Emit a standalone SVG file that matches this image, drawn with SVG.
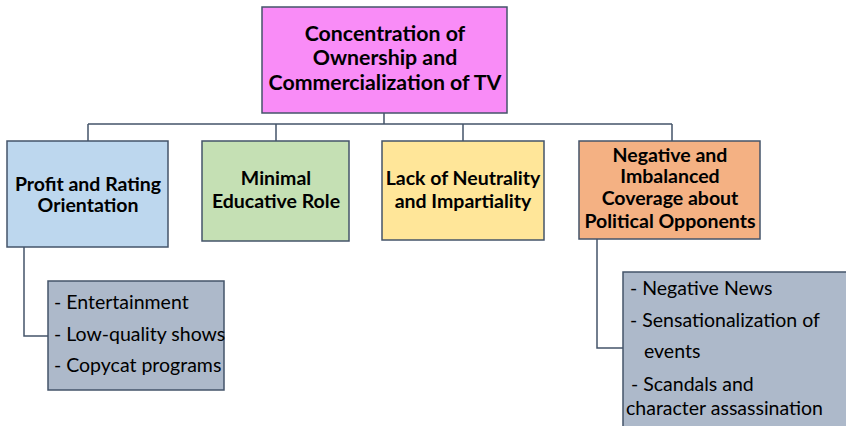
<svg xmlns="http://www.w3.org/2000/svg" width="846" height="426" viewBox="0 0 846 426">
<style>
.box{stroke:#44546a;stroke-width:1.5}
.t{font-family:Lato,"Liberation Sans",sans-serif;font-weight:bold;font-size:19.5px;fill:#000;text-anchor:middle}
.r{font-size:21.3px}
.s{font-family:Lato,"Liberation Sans",sans-serif;font-size:19.5px;fill:#000}
.c{fill:none;stroke:#44546a;stroke-width:1.5}
</style>
<rect width="846" height="426" fill="#fff"/>
<g id="connectors">
<path class="c" d="M384,113 V124 M88,124 H672 M88,124 V141 M276,124 V141 M463,124 V141 M672,124 V141"/>
<path class="c" d="M24,247 V336 H48"/>
<path class="c" d="M597,239 V348 H623"/>
</g>
<g id="root">
<rect class="box" x="262" y="7" width="245" height="106" fill="#f98cf7"/>
<text class="t r" x="385" y="41">Concentration of</text>
<text class="t r" x="385" y="65">Ownership and</text>
<text class="t r" x="385" y="90">Commercialization of TV</text>
</g>
<g id="profit">
<rect class="box" x="7" y="141" width="161" height="106" fill="#bdd7ee"/>
<text class="t" x="88" y="191">Profit and Rating</text>
<text class="t" x="88" y="212">Orientation</text>
</g>
<g id="educative">
<rect class="box" x="202" y="141" width="147" height="100" fill="#c5e0b4"/>
<text class="t" x="276" y="185">Minimal</text>
<text class="t" x="276" y="208">Educative Role</text>
</g>
<g id="neutrality">
<rect class="box" x="382" y="141" width="162" height="99" fill="#ffe699"/>
<text class="t" x="463" y="185">Lack of Neutrality</text>
<text class="t" x="463" y="208">and Impartiality</text>
</g>
<g id="negative">
<rect class="box" x="579" y="141" width="181" height="98" fill="#f4b183"/>
<text class="t" x="670" y="162">Negative and</text>
<text class="t" x="670" y="183">Imbalanced</text>
<text class="t" x="670" y="205">Coverage about</text>
<text class="t" x="670" y="228">Political Opponents</text>
</g>
<g id="profit-details">
<rect class="box" x="48" y="281" width="176" height="109" fill="#adb9ca"/>
<text class="s" x="54" y="309">- Entertainment</text>
<text class="s" x="54" y="341">- Low-quality shows</text>
<text class="s" x="54" y="372">- Copycat programs</text>
</g>
<g id="negative-details">
<rect class="box" x="623" y="272" width="230" height="160" fill="#adb9ca"/>
<text class="s" x="630" y="295">- Negative News</text>
<text class="s" x="630" y="327">- Sensationalization of</text>
<text class="s" x="644" y="358">events</text>
<text class="s" x="631" y="391">- Scandals and</text>
<text class="s" x="626" y="415">character assassination</text>
</g>
</svg>
